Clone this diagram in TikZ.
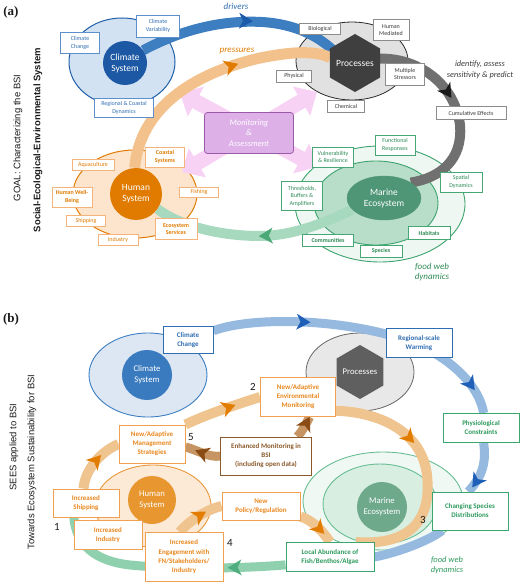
\documentclass[tikz,border=0pt]{standalone}
\usepackage{fontspec}
\setmainfont{Carlito}
\newfontfamily\arialf{Liberation Sans}
\newfontfamily\timesf{Liberation Serif}
\usetikzlibrary{shapes.geometric,decorations.markings,arrows.meta}
\pgfdeclarelayer{bg}
\pgfsetlayers{bg,main}
% panel a colours
\definecolor{aclimF}{HTML}{D2E2F3}
\definecolor{aclimB}{HTML}{1F5FA8}
\definecolor{aclimC}{HTML}{1C58A4}
\definecolor{ablueBand}{HTML}{3D7EC1}
\definecolor{ablueArr}{HTML}{1B5BAA}
\definecolor{abluebox}{HTML}{5C8FCB}
\definecolor{abluetxt}{HTML}{2F6DB3}
\definecolor{aprocF}{HTML}{E1E1E1}
\definecolor{aprocB}{HTML}{2A2A2A}
\definecolor{ahexc}{HTML}{3F3F3F}
\definecolor{agrayBand}{HTML}{707070}
\definecolor{agrayArr}{HTML}{1A1A1A}
\definecolor{agraybox}{HTML}{8C8C8C}
\definecolor{agraytxt}{HTML}{3A3A3A}
\definecolor{ahumF}{HTML}{FCE5CC}
\definecolor{ahumB}{HTML}{E07B00}
\definecolor{aorBand}{HTML}{F3C28C}
\definecolor{aorArr}{HTML}{E07B00}
\definecolor{aorbox}{HTML}{F4B37B}
\definecolor{aortxt}{HTML}{E07B00}
\definecolor{amarOF}{HTML}{EFF7F2}
\definecolor{amarB}{HTML}{3DA36E}
\definecolor{amarIF}{HTML}{B8DEC9}
\definecolor{amarC}{HTML}{4E9676}
\definecolor{agrBand}{HTML}{A7D9BF}
\definecolor{agrArr}{HTML}{4BA877}
\definecolor{agrbox}{HTML}{45A874}
\definecolor{agrtxt}{HTML}{2E8B57}
\definecolor{amonF}{HTML}{DDB1E8}
\definecolor{amonB}{HTML}{9B5AA8}
\definecolor{apink}{HTML}{F7D2F4}
% panel b colours
\definecolor{bclimF}{HTML}{DCE7F3}
\definecolor{bclimB}{HTML}{3C7EC4}
\definecolor{bclimC}{HTML}{3A7BC0}
\definecolor{bblueBand}{HTML}{95B9DF}
\definecolor{bblueArr}{HTML}{1F5FB8}
\definecolor{bbluebox}{HTML}{2F6DB3}
\definecolor{bprocF}{HTML}{E8E8E8}
\definecolor{bprocB}{HTML}{666666}
\definecolor{bhexc}{HTML}{5F5F5F}
\definecolor{bhumF}{HTML}{FDEAD6}
\definecolor{bhumB}{HTML}{E8973A}
\definecolor{bhumC}{HTML}{E8962F}
\definecolor{borBand}{HTML}{F0C48F}
\definecolor{borArr}{HTML}{E27D00}
\definecolor{borbox}{HTML}{F0A050}
\definecolor{bortxt}{HTML}{E8871E}
\definecolor{bbrBand}{HTML}{C69563}
\definecolor{bbrArr}{HTML}{8A4B14}
\definecolor{bbrbox}{HTML}{8B5A2B}
\definecolor{bmarOF}{HTML}{F0F8F4}
\definecolor{bmarB}{HTML}{68BE93}
\definecolor{bmarIF}{HTML}{D7EEE1}
\definecolor{bmarC}{HTML}{6EA98C}
\definecolor{bgrBand}{HTML}{8FD1AF}
\definecolor{bgrArr}{HTML}{4FAE7F}
\definecolor{bgrbox}{HTML}{3AA66D}
\definecolor{bgrtxt}{HTML}{2E9A5E}
\definecolor{txtk}{HTML}{1A1A1A}
\begin{document}
\begin{tikzpicture}[x=1pt,y=-1pt,
  band/.style={line width=#1, line cap=butt},
  band/.default=10pt,
  midarr/.style 2 args={postaction={decorate,decoration={markings,mark=at position #1 with {\fill[#2] (6pt,0pt) -- (-8pt,8pt) -- (-4pt,0pt) -- (-8pt,-8pt) -- cycle;}}}},
  arrhead/.pic={\fill (6pt,0pt) -- (-8pt,8pt) -- (-4pt,0pt) -- (-8pt,-8pt) -- cycle;},
  pinkheads/.style={decorate,decoration={markings,
     mark=at position 0 with {\fill[apink] (0pt,0pt) -- (18pt,17pt) -- (18pt,-17pt) -- cycle;},
     mark=at position 1 with {\fill[apink] (0pt,0pt) -- (-18pt,17pt) -- (-18pt,-17pt) -- cycle;}}},
  abox/.style 2 args={draw=#1, text=#2, fill=white, line width=0.6pt, align=center, inner sep=0.5pt, font=\fontsize{6}{7.4}\selectfont},
  aboxb/.style={font=\bfseries\fontsize{6}{7.4}\selectfont},
  bbox/.style 2 args={draw=#1, text=#2, fill=white, line width=0.9pt, align=center, inner sep=0.5pt, font=\bfseries\fontsize{7}{9}\selectfont},
  ell/.style 2 args={ellipse, draw=#1, fill=#2, inner sep=0pt},
  bigf/.style={text=white, align=center, font=\fontsize{9.5}{11}\selectfont},
  bigfb/.style={text=white, align=center, font=\fontsize{8.7}{11}\selectfont},
  num/.style={text=txtk, font=\fontsize{11}{13}\selectfont},
  vlab/.style={rotate=90, text=txtk, font=\arialf\fontsize{9.5}{11}\selectfont},
  plab/.style={text=txtk, font=\timesf\bfseries\fontsize{13}{15}\selectfont},
  itl/.style={align=center, font=\itshape\fontsize{#1}{10.5}\selectfont},
]
\useasboundingbox (0,0) rectangle (520,583);
%================= background shapes
\begin{pgfonlayer}{bg}
\node[ell={aclimB}{aclimF}, line width=1pt, minimum width=106, minimum height=88] (aclimE) at (122,62) {};
\node[ell={aprocB}{aprocF}, line width=0.8pt, minimum width=112, minimum height=78] (aprocE) at (352,61) {};
\node[ell={ahumB}{ahumF}, line width=1pt, minimum width=124, minimum height=88] (ahumE) at (135,194) {};
\node[ell={amarB}{amarOF}, line width=0.9pt, minimum width=170, minimum height=116] (amarO) at (380,204) {};
\node[ell={amarB}{amarIF}, line width=0.9pt, minimum width=124, minimum height=84] (amarI) at (376,203) {};
% pink monitoring arrows
\coordinate (pk1) at (180,93);
\coordinate (pk2) at (317,167);
\coordinate (pk3) at (317,92);
\coordinate (pk4) at (182,172);
\draw[apink, line width=15pt, shorten <=16pt, shorten >=16pt] (pk1) -- (pk2);
\draw[apink, line width=15pt, shorten <=16pt, shorten >=16pt] (pk3) -- (pk4);
\path[pinkheads] (pk1) -- (pk2);
\path[pinkheads] (pk3) -- (pk4);
% panel b ellipses
\node[ell={bclimB}{bclimF}, line width=0.9pt, minimum width=118, minimum height=84] (bclimE) at (148,375) {};
\node[ell={bprocB}{bprocF}, line width=0.8pt, minimum width=108, minimum height=78] (bprocE) at (360,372) {};
\node[ell={bhumB}{bhumF}, line width=0.9pt, minimum width=116, minimum height=82] (bhumE) at (153,506) {};
\node[ell={bmarB}{bmarOF}, line width=0.9pt, minimum width=160, minimum height=98] (bmarO) at (383,501) {};
\node[ell={bmarB}{bmarIF}, line width=0.9pt, minimum width=114, minimum height=80] (bmarI) at (380,504) {};
\end{pgfonlayer}
%================= panel a foreground
\node[plab] (pa) at (11,12) {(a)};
\node[vlab] (ag1) at (18,138) {GOAL: Characterizing the BSI};
\node[vlab, font=\arialf\bfseries\fontsize{9.5}{11}\selectfont] (ag2) at (38,140) {Social-Ecological-Environmental System};

\node[circle, fill=aclimC, minimum size=44, inner sep=0pt, bigf] (aclim) at (125,63) {Climate\\System};
\fill[ahexc] (355,63) +(90:29pt) -- +(150:29pt) -- +(210:29pt) -- +(270:29pt) -- +(330:29pt) -- +(30:29pt) -- cycle;
\node[circle, minimum size=50, inner sep=0pt, bigf] (aproc) at (355,63) {Processes};
\node[circle, fill=ahumB, minimum size=52, inner sep=0pt, bigf] (ahum) at (136,194) {Human\\System};
\node[ell={amarC}{amarC}, minimum width=74, minimum height=44, bigf] (amar) at (384,198) {Marine\\Ecosystem};
\node[draw=amonB, fill=amonF, rounded corners=3pt, line width=0.8pt, minimum width=89, minimum height=41, text=white, align=center, font=\itshape\fontsize{8.5}{10.7}\selectfont] (amon) at (249,133) {Monitoring\\\&\\Assessment};

% climate boxes
\node[abox={abluebox}{abluetxt}, minimum width=39, minimum height=21] (aCC) at (80,43) {Climate\\Change};
\node[abox={abluebox}{abluetxt}, minimum width=43, minimum height=22] (aCV) at (158,26) {Climate\\Variability};
\node[abox={abluebox}{abluetxt}, minimum width=59, minimum height=19] (aRC) at (124,108) {Regional \& Coastal\\Dynamics};
% process boxes
\node[abox={agraybox}{agraytxt}, minimum width=41, minimum height=11] (aBio) at (320,29) {Biological};
\node[abox={agraybox}{agraytxt}, minimum width=36, minimum height=21] (aHM) at (391,30) {Human\\Mediated};
\node[abox={agraybox}{agraytxt}, minimum width=35, minimum height=12] (aPhy) at (294,76) {Physical};
\node[abox={agraybox}{agraytxt}, minimum width=39, minimum height=22] (aMS) at (405,74) {Multiple\\Stressors};
\node[abox={agraybox}{agraytxt}, minimum width=37, minimum height=12] (aChe) at (346,106) {Chemical};
\node[abox={agraybox}{agraytxt}, minimum width=70, minimum height=13] (aCE) at (471,113) {Cumulative Effects};
% marine boxes
\node[abox={agrbox}{agrtxt}, minimum width=40, minimum height=20] (aFR) at (395,145) {Functional\\Responses};
\node[abox={agrbox}{agrtxt}, minimum width=41, minimum height=20] (aVR) at (333,157) {Vulnerability\\\& Resilience};
\node[abox={agrbox}{agrtxt}, minimum width=41, minimum height=29] (aTB) at (302,196) {Thresholds,\\Buffers \&\\Amplifiers};
\node[abox={agrbox}{agrtxt}, minimum width=42, minimum height=20] (aSD) at (461,182) {Spatial\\Dynamics};
\node[abox={agrbox}{agrtxt}, aboxb, minimum width=51, minimum height=12] (aCom) at (328,240) {Communities};
\node[abox={agrbox}{agrtxt}, aboxb, minimum width=42, minimum height=12] (aSp) at (381,251) {Species};
\node[abox={agrbox}{agrtxt}, aboxb, minimum width=42, minimum height=13] (aHab) at (429,233) {Habitats};
% human boxes
\node[abox={aorbox}{aortxt}, aboxb, minimum width=39, minimum height=20] (aCS) at (165,157) {Coastal\\Systems};
\node[abox={aorbox}{aortxt}, minimum width=42, minimum height=11] (aAq) at (93,165) {Aquaculture};
\node[abox={aorbox}{aortxt}, aboxb, minimum width=40, minimum height=20] (aHW) at (72,197) {Human Well-\\Being};
\node[abox={aorbox}{aortxt}, minimum width=39, minimum height=10] (aFi) at (199,192) {Fishing};
\node[abox={aorbox}{aortxt}, minimum width=39, minimum height=11] (aSh) at (86,221) {Shipping};
\node[abox={aorbox}{aortxt}, aboxb, minimum width=42, minimum height=21] (aES) at (176,229) {Ecosystem\\Services};
\node[abox={aorbox}{aortxt}, minimum width=40, minimum height=11] (aInd) at (118,240) {Industry};
% labels a
\node[itl=9, text=abluetxt] (adrv) at (236,6) {drivers};
\node[itl=9, text=aortxt] (apre) at (237,51) {pressures};
\node[itl=8.3, text=agraytxt] (aid) at (480,70) {identify, assess\\sensitivity \& predict};
\node[itl=9, text=agrtxt] (afw) at (432,272) {food web\\dynamics};

%================= panel b foreground
\node[plab] (pb) at (11,319) {(b)};
\node[vlab] (bg1) at (14,447) {SEES applied to BSI};
\node[vlab] (bg2) at (32,462) {Towards Ecosystem Sustainability for BSI};

\node[circle, fill=bclimC, minimum size=50, inner sep=0pt, bigfb] (bclim) at (147,375) {Climate\\System};
\fill[bhexc] (360,372) +(90:27pt) -- +(150:27pt) -- +(210:27pt) -- +(270:27pt) -- +(330:27pt) -- +(30:27pt) -- cycle;
\node[circle, minimum size=46, inner sep=0pt, bigfb] (bproc) at (360,372) {Processes};
\node[circle, fill=bhumC, minimum size=48, inner sep=0pt, bigfb] (bhum) at (152,500) {Human\\System};
\node[circle, fill=bmarC, minimum size=50, inner sep=0pt, bigfb] (bmar) at (382,507) {Marine\\Ecosystem};

\node[bbox={bbluebox}{bbluebox}, minimum width=50, minimum height=27] (bcc) at (188,340) {Climate\\Change};
\node[bbox={bbluebox}{bbluebox}, minimum width=66, minimum height=29] (brw) at (419,343) {Regional-scale\\Warming};
\node[bbox={bgrbox}{bgrtxt}, minimum width=76, minimum height=29] (bpc) at (481,428) {Physiological\\Constraints};
\node[bbox={bgrbox}{bgrtxt}, minimum width=76, minimum height=38] (bcs) at (470,511) {Changing Species\\Distributions};
\node[bbox={bgrbox}{bgrtxt}, minimum width=88, minimum height=29] (bla) at (330,557) {Local Abundance of\\Fish/Benthos/Algae};
\node[bbox={borbox}{bortxt}, minimum width=75, minimum height=39] (bem) at (298,397) {New/Adaptive\\Environmental\\Monitoring};
\node[bbox={borbox}{bortxt}, minimum width=66, minimum height=38] (bms) at (152,444) {New/Adaptive\\Management\\Strategies};
\node[bbox={bbrbox}{bbrbox}, minimum width=91, minimum height=38] (benh) at (266,456) {Enhanced Monitoring in\\BSI\\(including open data)};
\node[bbox={borbox}{bortxt}, minimum width=66, minimum height=28] (bis) at (86,503) {Increased\\Shipping};
\node[bbox={borbox}{bortxt}, minimum width=68, minimum height=29] (bii) at (108,535) {Increased\\Industry};
\node[bbox={borbox}{bortxt}, minimum width=78, minimum height=49, font=\bfseries\fontsize{7}{9.3}\selectfont] (bie) at (184,557) {Increased\\Engagement with\\FN/Stakeholders/\\Industry};
\node[bbox={borbox}{bortxt}, minimum width=78, minimum height=28] (bnp) at (261,506) {New\\Policy/Regulation};

\node[num] (n1) at (57,527) {1};
\node[num] (n2) at (253,387) {2};
\node[num] (n3) at (423,520) {3};
\node[num] (n4) at (230,543) {4};
\node[num] (n5) at (191,437) {5};
\node[itl=8.5, text=bgrtxt] (bfw) at (447,565) {food web\\dynamics};

%================= bands (connectors)
\begin{pgfonlayer}{bg}
% panel a
\draw[band, ablueBand] (aclim.35) .. controls (185,28) and (225,20) .. (262,22) .. controls (295,24) and (318,36) .. (aproc.150);
\pic[color=ablueArr, rotate=-2] at (247,21) {arrhead};
\draw[band=11pt, aorBand, midarr={0.6}{aorArr}] (ahum.93) .. controls (140,110) and (190,74) .. (260,58) .. controls (290,52) and (315,50) .. (aproc.168);
\draw[band, agrayBand, midarr={0.4}{agrayArr}] (aproc.10) .. controls (420,58) and (455,85) .. (460,125) .. controls (463,160) and (440,178) .. (amar.30);
\draw[band, agrBand, midarr={0.45}{agrArr}] (amar.200) .. controls (315,228) and (285,236) .. (260,236) .. controls (220,236) and (180,226) .. (ahum.-35);
% panel b blue
\draw[band=9pt, bblueBand, midarr={0.3}{bblueArr}, midarr={0.9}{bblueArr}] (bcc.20) .. controls (250,317) and (335,318) .. (400,338) .. controls (440,350) and (478,380) .. (bpc.80);
\draw[band=9pt, bblueBand, midarr={0.78}{bblueArr}] (bpc.-80) .. controls (486,460) and (484,475) .. (bcs.95);
\draw[band=9pt, bblueBand] (bcs.215) .. controls (430,540) and (400,552) .. (bla.east);
% panel b orange
\draw[band, borBand, midarr={0.55}{borArr}] (bis.100) .. controls (85,470) and (100,452) .. (bms.west);
\draw[band, borBand, midarr={0.6}{borArr}] (bms.north east) .. controls (205,415) and (235,405) .. (bem.west);
\draw[band, borBand, midarr={0.34}{borArr}] (bem.-20) .. controls (380,412) and (422,432) .. (427,475) .. controls (432,520) and (410,546) .. (bla.30);
\draw[band, borBand, midarr={0.6}{borArr}] (bnp.-15) .. controls (312,520) and (322,530) .. (bla.north);
\draw[band, borBand, midarr={0.55}{borArr}] (bie.100) .. controls (188,522) and (205,510) .. (bnp.west);
% panel b brown
\draw[band=9pt, bbrBand, midarr={0.55}{bbrArr}] (benh.west) .. controls (210,458) and (197,450) .. (bms.-5);
\draw[band=9pt, bbrBand, midarr={0.75}{bbrArr}] (benh.32) .. controls (302,432) and (306,424) .. (bem.-60);
% panel b green
\draw[band=9pt, bgrBand, midarr={0.22}{bgrArr}] (bla.190) .. controls (250,568) and (180,570) .. (130,565) .. controls (95,561) and (76,545) .. (bis.-130);
\end{pgfonlayer}
\end{tikzpicture}
\end{document}
